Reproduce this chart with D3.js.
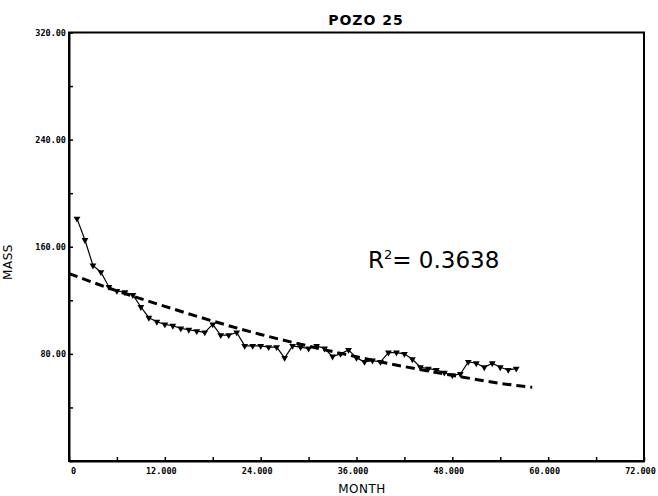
<!DOCTYPE html>
<html><head><meta charset="utf-8">
<script src="https://cdn.jsdelivr.net/npm/d3@7"></script>
<style>
html,body{margin:0;padding:0;background:#fff;}
svg{display:block;}
text{fill:#000;}
</style></head>
<body>
<svg id="chart" width="658" height="496"></svg>
<script>
// ---- data ----
const months = [1,2,3,4,5,6,7,8,9,10,11,12,13,14,15,16,17,18,19,20,21,22,23,24,25,26,27,28,29,30,31,32,33,34,35,36,37,38,39,40,41,42,43,44,45,46,47,48,49,50,51,52,53,54,55,56];
const mass   = [181,165,146,141,130,127,126,124,115,107,104,102,101,99,98,97,96,102,94,94,96,86,86,86,85,85,77,86,85,84,86,84,78,80,83,77,74,75,74,81,81,80,76,70,69,68,66,64,65,74,73,70,73,70,68,69];
const fitMonths = [0,6,12,18,24,30,36,42,48,54,58];
const fitMass   = [140,127,115.5,104.5,94.5,85.8,77.8,70.5,64,58,55];
const xTickLabels = [0,12,24,36,48,60,72];
const yTickLabels = [80,160,240,320];
const title = "POZO 25";
const xTitle = "MONTH";
const yTitle = "MASS";
const r2Text = "0.3638";

const svg = d3.select("#chart");
const L = 69, T = 32.5, R = 644, B = 461;
const x = d3.scaleLinear().domain([0,72]).range([L,R]);
const y = d3.scaleLinear().domain([0,320]).range([B,T]);
const tickFont = "'DejaVu Sans Mono', monospace";

// frame
svg.append("rect").attr("x",L).attr("y",T).attr("width",R-L).attr("height",B-T)
  .attr("fill","none").attr("stroke","#000").attr("stroke-width",2);

// x axis
const xAxis = d3.axisBottom(x).tickValues(d3.range(0,73,6)).tickSizeInner(-4).tickSizeOuter(0)
  .tickFormat(d => xTickLabels.includes(d) ? (d===0 ? "0" : d3.format(".3f")(d)) : "");
const gx = svg.append("g").attr("transform",`translate(0,${B})`).call(xAxis);
gx.select(".domain").attr("stroke-width",2);
gx.selectAll(".tick line").attr("stroke-width",1.5);
gx.selectAll("text").attr("font-family",tickFont).attr("font-weight","bold")
  .attr("font-size",8.5).attr("dy","1.1em").attr("y",4)
  .attr("dx", d => d===0 ? 4 : -4);

// y axis
const yAxis = d3.axisLeft(y).tickValues(d3.range(0,321,40)).tickSizeInner(-4).tickSizeOuter(0)
  .tickFormat(d => yTickLabels.includes(d) ? d3.format(".2f")(d) : "");
const gy = svg.append("g").attr("transform",`translate(${L},0)`).call(yAxis);
gy.select(".domain").attr("stroke-width",2);
gy.selectAll(".tick line").attr("stroke-width",1.5);
gy.selectAll("text").attr("font-family",tickFont).attr("font-weight","bold")
  .attr("font-size",8.5).attr("x",-3);

// titles
svg.append("text").attr("x",366).attr("y",25).attr("text-anchor","middle")
  .attr("font-family","'DejaVu Sans', sans-serif").attr("font-size",14).attr("font-weight","bold")
  .attr("letter-spacing",1).text(title);
svg.append("text").attr("x",362).attr("y",493).attr("text-anchor","middle")
  .attr("font-family","'DejaVu Sans', sans-serif").attr("font-size",12)
  .attr("letter-spacing",0.5).text(xTitle);
svg.append("text").attr("transform","translate(12,262) rotate(-90)").attr("text-anchor","middle")
  .attr("font-family","'DejaVu Sans', sans-serif").attr("font-size",12)
  .attr("letter-spacing",0.5).text(yTitle);

// fit curve (dashed)
const fitLine = d3.line().x((d,i)=>x(fitMonths[i])).y(d=>y(d)).curve(d3.curveMonotoneX);
svg.append("path").attr("d",fitLine(fitMass)).attr("fill","none").attr("stroke","#000")
  .attr("stroke-width",3).attr("stroke-dasharray","9,5");

// data series
const dataLine = d3.line().x((d,i)=>x(months[i])).y(d=>y(d));
svg.append("path").attr("d",dataLine(mass)).attr("fill","none").attr("stroke","#000")
  .attr("stroke-width",1.2);
const tri = d3.symbol().type(d3.symbolTriangle).size(20);
svg.append("g").selectAll("path").data(mass).join("path")
  .attr("transform",(d,i)=>`translate(${x(months[i])},${y(d)}) rotate(180)`)
  .attr("d",tri).attr("fill","#000");

// R^2 annotation
const rt = svg.append("text").attr("x",368).attr("y",268)
  .attr("font-family","'DejaVu Sans', sans-serif").attr("font-size",23);
rt.append("tspan").text("R");
rt.append("tspan").attr("font-size",13).attr("dy",-9).text("2");
rt.append("tspan").attr("dy",9).text("= " + r2Text);
</script>
</body></html>
